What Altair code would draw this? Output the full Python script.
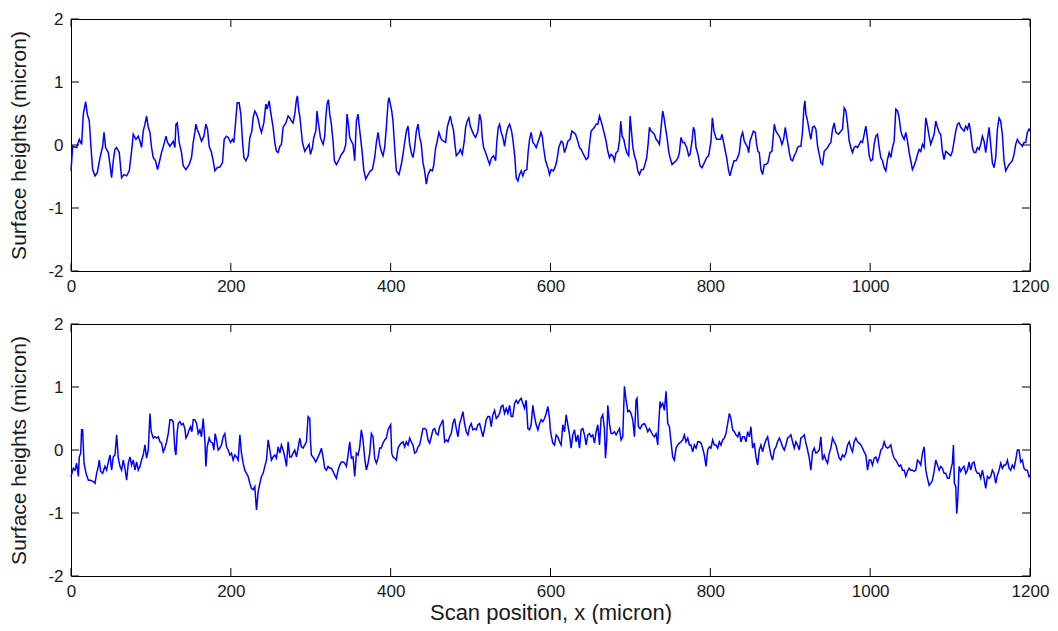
import altair as alt
import pandas as pd

X_TICKS = [0, 200, 400, 600, 800, 1000, 1200]
Y_TICKS = [-2, -1, 0, 1, 2]
Y_TITLE = "Surface heights (micron)"
X_TITLE = "Scan position, x (micron)"

# (scan position in micron, surface height in micron)
top_profile = [
    (0, -0.41), (2.1, -0.02), (7.1, -0.04), (10.4, 0.09), (13.3, 0.01), (15.4, 0.49), (18.3, 0.69),
    (20.4, 0.49), (22.9, 0.38), (25.0, -0.04), (27.1, -0.39), (30.0, -0.49), (32.9, -0.44), (36.3, -0.20),
    (39.6, -0.02), (41.3, 0.20), (43.3, -0.04), (46.7, -0.12), (48.8, -0.31), (50.8, -0.52), (52.9, -0.25),
    (55.0, -0.07), (57.1, -0.04), (60.4, -0.12), (63.3, -0.52), (66.3, -0.47), (69.6, -0.49), (72.9, -0.41),
    (75.8, -0.10), (77.9, 0.17), (81.3, 0.09), (84.2, 0.14), (86.3, 0.06), (88.3, -0.04), (90.4, 0.22),
    (92.5, 0.33), (94.6, 0.46), (96.7, 0.28), (98.8, 0.20), (100.8, -0.04), (102.9, -0.20), (105.8, -0.25),
    (108.3, -0.39), (111.3, -0.23), (113.3, -0.12), (116.3, 0.01), (118.8, 0.14), (120.8, 0.04), (123.8, -0.02),
    (127.9, 0.06), (130.0, -0.04), (131.3, 0.33), (132.9, 0.35), (135.4, 0.04), (138.3, -0.12), (140.4, -0.33),
    (143.8, -0.39), (147.9, -0.31), (150.8, -0.20), (152.9, 0.04), (155.0, 0.20), (156.3, 0.33), (157.9, 0.25),
    (160.4, 0.17), (163.3, 0.06), (166.3, 0.14), (168.8, 0.33), (170.8, 0.25), (172.9, -0.02), (175.8, -0.12),
    (177.9, -0.25), (180.0, -0.41), (182.9, -0.36), (186.3, -0.35), (189.6, -0.28), (191.7, 0.09), (194.6, 0.14),
    (196.7, 0.12), (199.6, 0.04), (202.1, 0.09), (203.8, 0.04), (206.3, 0.41), (207.9, 0.67), (210.4, 0.67),
    (212.5, 0.49), (214.6, 0.06), (216.3, -0.20), (218.8, -0.25), (221.7, -0.17), (223.8, 0.12), (226.3, 0.22),
    (227.9, 0.43), (230.0, 0.54), (232.1, 0.49), (234.2, 0.41), (236.3, 0.28), (238.3, 0.20), (241.3, 0.35),
    (243.8, 0.65), (245.4, 0.57), (247.9, 0.70), (250.0, 0.51), (252.9, 0.28), (255.0, 0.04), (257.1, -0.10),
    (259.2, -0.12), (261.3, -0.02), (263.3, 0.01), (265.4, 0.28), (268.8, 0.35), (271.7, 0.46), (273.8, 0.43),
    (275.8, 0.38), (277.9, 0.35), (280.0, 0.49), (282.1, 0.72), (283.3, 0.78), (285.0, 0.54), (286.3, 0.46),
    (289.6, 0.04), (292.5, -0.10), (295.4, -0.04), (297.9, 0.01),
    (299.6, -0.15), (302.1, -0.04), (303.8, 0.12), (306.3, 0.22), (307.9, 0.54), (309.2, 0.38), (310.4, 0.28),
    (312.1, 0.12), (313.8, 0.06), (315.4, 0.01), (317.5, 0.14), (318.8, 0.43), (320.4, 0.65), (322.1, 0.72),
    (323.8, 0.49), (325.8, 0.33), (327.9, 0.06), (329.6, -0.25), (332.1, -0.31), (335.4, -0.23), (338.3, -0.15),
    (341.3, -0.10), (343.8, 0.01), (345.4, 0.49), (347.1, 0.33), (348.8, 0.12), (350.8, 0.06), (352.9, 0.01),
    (355.0, -0.25), (357.1, 0.38), (359.2, 0.49), (360.4, 0.33), (362.1, 0.14), (364.6, -0.15), (366.3, -0.39),
    (368.8, -0.54), (371.7, -0.47), (374.6, -0.41), (377.1, -0.39), (380.0, -0.20), (382.1, 0.04), (384.2, 0.20),
    (386.3, 0.01), (388.3, -0.10), (390.4, -0.17), (392.5, -0.04), (394.6, 0.28), (396.7, 0.67), (397.9, 0.75),
    (399.6, 0.65), (401.3, 0.54), (402.9, 0.38), (405.0, -0.04), (407.1, -0.41), (410.4, -0.47), (413.3, -0.31),
    (415.4, -0.15), (417.5, 0.04), (419.6, 0.22), (421.7, 0.30), (423.8, 0.01), (425.8, -0.12), (427.9, -0.20),
    (430.0, -0.04), (432.1, 0.22), (434.2, 0.33), (436.3, 0.12), (438.3, 0.01), (440.4, -0.28), (442.5, -0.41),
    (444.6, -0.62), (446.7, -0.47), (449.6, -0.39), (452.1, -0.41), (453.8, -0.33), (456.3, -0.04), (457.9, 0.04),
    (460.4, 0.20), (463.3, 0.09), (466.3, 0.06), (468.8, 0.04), (470.8, 0.28), (472.9, 0.38), (474.6, 0.46),
    (476.3, 0.35), (478.8, 0.22), (480.4, 0.01), (482.1, -0.17), (485.4, -0.12), (487.1, -0.07), (489.6, -0.15),
    (492.1, 0.06), (493.8, 0.28), (495.8, 0.38), (497.9, 0.43), (499.6, 0.30), (502.1, 0.22), (503.8, 0.17),
    (506.3, 0.12), (509.2, 0.22), (511.3, 0.49), (513.3, 0.38), (514.6, 0.12), (516.3, -0.04), (518.8, -0.12),
    (521.7, -0.23), (523.8, -0.31), (526.3, -0.20), (528.8, -0.17), (531.3, -0.25), (532.9, 0.06), (534.6, 0.28),
    (536.3, 0.33), (538.3, 0.20), (540.4, 0.12), (542.5, -0.02), (544.6, 0.17), (546.7, 0.28), (548.8, 0.33),
    (551.3, 0.22), (552.9, 0.09), (555.4, -0.20), (557.1, -0.52), (559.2, -0.57), (561.3, -0.47), (563.3, -0.41),
    (565.4, -0.49), (567.5, -0.41), (570.4, -0.39), (572.1, -0.10), (573.8, 0.09), (575.8, 0.20), (577.9, 0.04),
    (580.0, 0.01), (582.1, -0.04), (584.2, 0.04), (586.3, 0.12), (588.0, 0.20), (589.6, 0.14), (591.3, -0.04),
    (593.8, -0.25), (596.7, -0.36), (598.8, -0.47),
    (600.8, -0.39), (603.8, -0.41), (606.3, -0.33), (607.9, -0.25), (610.4, -0.04), (613.3, 0.06), (615.4, 0.04),
    (617.5, -0.12), (619.6, -0.04), (621.7, 0.06), (624.6, 0.09), (626.7, 0.22), (628.8, 0.20), (631.3, 0.17),
    (634.2, 0.06), (636.3, -0.04), (638.3, -0.07), (641.3, -0.15), (644.6, -0.23), (647.1, -0.20), (648.8, 0.01),
    (650.8, 0.22), (652.9, 0.25), (655.0, 0.28), (657.1, 0.33), (659.2, 0.33), (661.3, 0.46), (663.3, 0.38),
    (665.4, 0.28), (667.5, 0.17), (669.6, 0.06), (671.7, -0.10), (673.8, -0.20), (675.8, -0.15), (677.9, -0.17),
    (680.0, -0.25), (682.1, -0.12), (684.2, -0.10), (686.3, 0.06), (687.9, 0.38), (689.6, 0.14), (691.7, 0.09),
    (693.8, -0.04), (695.4, -0.12), (697.9, -0.17), (699.6, 0.46), (701.3, 0.22), (702.9, -0.02), (705.0, -0.17),
    (707.1, -0.25), (709.2, -0.41), (711.3, -0.47), (713.8, -0.39), (716.3, -0.39), (718.8, -0.28), (720.4, -0.20),
    (722.1, 0.01), (723.8, 0.28), (725.8, 0.22), (727.9, 0.20), (730.0, 0.17), (732.1, 0.09), (734.2, 0.06),
    (736.3, 0.01), (738.8, 0.33), (740.4, 0.54), (742.1, 0.43), (743.8, 0.28), (745.8, 0.12), (747.9, -0.10),
    (749.6, -0.20), (752.1, -0.31), (754.6, -0.28), (757.1, -0.25), (759.6, -0.20), (761.3, -0.12), (763.3, 0.12),
    (765.4, 0.04), (767.5, 0.04), (770.4, -0.04), (772.9, -0.17), (774.6, -0.15), (777.1, 0.06), (778.8, 0.28),
    (780.4, 0.22), (782.1, -0.04), (784.6, -0.15), (787.1, -0.33), (789.6, -0.36), (792.5, -0.28), (795.4, -0.20),
    (797.9, -0.17), (800.8, 0.06), (802.5, 0.43), (804.6, 0.22), (806.3, 0.14), (807.9, 0.09), (810.4, 0.09),
    (812.9, 0.09), (814.6, 0.17), (816.3, 0.06), (817.9, -0.04), (820.4, -0.20), (822.9, -0.41), (824.6, -0.49),
    (827.1, -0.36), (829.6, -0.25), (832.1, -0.25), (834.2, -0.20), (836.3, -0.12), (838.3, 0.12), (840.4, 0.20),
    (842.5, 0.06), (844.6, 0.01), (846.7, -0.04), (847.9, -0.12), (849.6, 0.06), (851.7, 0.14), (853.8, 0.22),
    (856.3, 0.20), (857.9, 0.01), (859.6, -0.10), (861.3, -0.12), (863.3, -0.39), (865.4, -0.47), (867.5, -0.31),
    (869.6, -0.31), (872.1, -0.28), (874.6, -0.12), (877.1, -0.10), (880.0, 0.33), (882.1, 0.22), (884.6, 0.17),
    (887.1, 0.12), (889.6, 0.01), (891.7, 0.09), (893.8, 0.28), (895.4, 0.14), (897.9, -0.04),
    (898.8, -0.12), (900.8, -0.23), (902.9, -0.25), (905.0, -0.17), (907.1, -0.12), (909.2, -0.04), (911.3, -0.02),
    (913.3, -0.02), (915.4, 0.22), (917.1, 0.59), (918.3, 0.70), (919.6, 0.49), (921.7, 0.38), (923.8, 0.22),
    (925.8, 0.09), (927.9, 0.28), (930.0, 0.30), (932.1, 0.25), (934.2, -0.02), (936.3, -0.15), (938.3, -0.28),
    (940.4, -0.31), (942.5, -0.10), (944.6, -0.07), (946.7, -0.04), (948.8, 0.01), (950.8, 0.04), (952.9, 0.25),
    (955.0, 0.35), (957.1, 0.20), (960.4, 0.17), (963.3, 0.22), (965.4, 0.25), (967.5, 0.59), (969.6, 0.54),
    (971.7, 0.33), (973.8, 0.06), (975.8, -0.04), (977.9, -0.12), (980.0, -0.04), (982.1, -0.02), (984.2, -0.04),
    (986.3, 0.01), (988.3, 0.06), (990.4, 0.04), (992.5, 0.17), (994.6, 0.30), (996.7, 0.09), (998.8, -0.17),
    (1000.8, -0.25), (1002.9, -0.23), (1005.0, 0.01), (1007.1, 0.14), (1009.2, 0.17), (1011.3, -0.04),
    (1013.3, -0.20), (1015.4, -0.25), (1017.5, -0.36), (1019.6, -0.41), (1021.7, -0.23), (1023.8, -0.12),
    (1025.8, -0.20), (1027.9, -0.04), (1030.0, 0.06), (1032.1, 0.57), (1034.2, 0.54), (1036.3, 0.43),
    (1038.3, 0.22), (1040.4, 0.14), (1042.5, 0.09), (1044.6, 0.20), (1046.7, 0.06), (1048.8, -0.12),
    (1050.8, -0.25), (1052.9, -0.39), (1055.0, -0.33), (1057.1, -0.25), (1059.2, -0.15), (1061.3, -0.07),
    (1063.3, -0.10), (1065.4, 0.01), (1067.5, -0.04), (1069.6, 0.43), (1071.7, 0.30), (1073.8, 0.14),
    (1075.8, 0.01), (1077.9, 0.09), (1080.0, 0.17), (1082.1, 0.38), (1084.2, 0.28), (1086.3, 0.20),
    (1088.3, 0.17), (1090.4, -0.10), (1092.5, -0.23), (1094.6, -0.10), (1096.7, -0.12), (1098.8, -0.15),
    (1100.8, -0.17), (1102.9, -0.10), (1105.0, 0.06), (1107.1, 0.22), (1109.2, 0.33), (1111.3, 0.35),
    (1113.3, 0.28), (1115.4, 0.25), (1117.5, 0.22), (1119.6, 0.30), (1121.7, 0.25), (1123.8, 0.35),
    (1125.8, 0.20), (1127.9, -0.04), (1130.0, -0.12), (1132.1, -0.12), (1134.2, -0.04), (1136.3, -0.07),
    (1138.3, 0.01), (1140.4, 0.14), (1142.5, 0.06), (1144.6, -0.12), (1146.7, 0.09), (1148.8, 0.28),
    (1150.8, 0.01), (1152.9, -0.28), (1155.0, -0.36), (1157.1, -0.20), (1159.2, 0.25), (1161.3, 0.43),
    (1163.3, 0.38), (1165.4, 0.17), (1167.5, -0.25), (1169.6, -0.41), (1171.7, -0.36), (1173.8, -0.31),
    (1175.8, -0.28), (1177.9, -0.25), (1180.0, -0.15), (1182.1, 0.01), (1184.2, 0.09), (1186.3, 0.04),
    (1188.3, 0.01), (1190.4, -0.02), (1192.5, 0.04), (1194.6, 0.04), (1196.7, 0.20), (1198.8, 0.25),
    (1200.0, 0.22),
]

# (scan position in micron, surface height in micron)
bottom_profile = [
    (0, -0.42), (2.9, -0.29), (5.0, -0.32), (7.1, -0.21), (9.2, -0.42), (10.4, -0.11), (12.1, -0.05),
    (13.3, 0.32), (14.6, 0.32), (16.3, -0.21), (18.8, -0.37), (21.7, -0.48), (24.6, -0.48), (27.9, -0.50),
    (30.0, -0.53), (32.1, -0.37), (34.2, -0.26), (35.4, -0.16), (37.1, -0.34), (39.6, -0.37), (42.5, -0.26),
    (44.6, -0.32), (46.7, -0.19), (48.8, -0.08), (50.8, -0.32), (52.9, -0.11), (55.0, -0.08), (57.1, 0.24),
    (59.2, -0.13), (61.3, -0.26), (63.3, -0.32), (65.4, -0.16), (67.5, -0.29), (69.6, -0.48), (71.7, -0.21),
    (73.8, -0.11), (75.8, -0.24), (77.9, -0.16), (80.0, -0.32), (82.1, -0.19), (84.2, -0.32), (86.3, -0.26),
    (88.3, -0.16), (90.4, -0.08), (92.5, 0.08), (94.6, -0.13), (96.7, 0.00), (98.8, 0.58), (100.4, 0.29),
    (102.9, 0.19), (105.0, 0.21), (107.1, 0.19), (109.2, 0.21), (111.3, 0.13), (113.3, 0.11), (115.4, -0.03),
    (117.5, 0.03), (119.6, 0.13), (121.7, 0.26), (123.8, 0.48), (125.8, 0.48), (127.9, 0.45), (130.0, 0.00),
    (131.3, -0.08), (132.9, 0.29), (134.2, 0.42), (136.3, 0.45), (138.3, 0.40), (140.4, 0.42), (142.5, 0.34),
    (143.8, 0.19), (145.8, 0.24), (147.9, 0.32), (149.6, 0.37), (151.3, 0.29), (152.9, 0.48), (155.0, 0.48),
    (157.1, 0.42), (159.2, 0.26), (161.3, 0.32), (163.3, 0.21), (165.4, 0.50), (167.5, 0.16), (168.8, -0.26),
    (170.4, 0.05), (172.9, 0.19), (174.6, 0.13), (177.1, 0.11), (178.8, 0.00), (180.4, 0.26), (182.1, 0.16),
    (184.2, 0.00), (186.3, 0.03), (188.3, 0.08), (190.4, 0.21), (192.5, 0.26), (194.6, 0.05), (196.7, 0.00),
    (198.8, -0.08), (200.8, -0.05), (202.9, -0.16), (205.0, -0.08), (207.1, -0.11), (209.2, -0.16),
    (211.3, 0.24), (213.3, -0.05), (215.4, -0.21), (217.5, -0.32), (219.6, -0.37), (221.7, -0.42),
    (223.8, -0.53), (225.8, -0.61), (227.9, -0.63), (230.0, -0.58), (232.1, -0.95), (234.2, -0.66),
    (236.3, -0.53), (238.3, -0.42), (240.4, -0.37), (242.5, -0.26), (244.6, -0.16), (246.7, 0.16),
    (248.8, 0.00), (250.8, -0.16), (252.9, -0.11), (255.0, -0.08), (257.1, -0.13), (259.2, 0.05),
    (261.3, -0.05), (263.3, 0.08), (265.4, 0.00), (267.5, -0.11), (269.6, -0.26), (271.7, 0.13),
    (273.8, -0.11), (275.8, -0.11), (277.9, -0.05), (280.0, 0.00), (282.1, -0.11), (284.2, 0.03),
    (286.3, 0.19), (288.3, 0.05), (290.4, 0.03), (292.5, 0.08), (294.6, 0.13), (296.7, 0.53), (298.8, 0.50),
    (299.6, 0.16), (300.8, -0.08), (303.8, -0.13), (306.3, -0.19), (309.2, -0.11), (311.3, -0.05),
    (313.3, 0.03), (315.4, -0.11), (317.5, -0.29), (319.6, -0.32), (321.7, -0.26), (323.8, -0.29),
    (325.8, -0.29), (327.9, -0.34), (330.0, -0.40), (332.1, -0.45), (334.2, -0.32), (336.3, -0.24),
    (338.3, -0.19), (340.4, -0.19), (342.5, -0.21), (344.6, -0.26), (346.7, -0.08), (348.8, 0.13),
    (350.8, -0.13), (352.9, -0.11), (355.0, -0.42), (357.1, -0.05), (359.2, -0.08), (361.3, 0.05),
    (363.3, 0.32), (365.4, 0.16), (367.5, -0.13), (369.6, -0.32), (371.7, -0.21), (373.8, -0.05),
    (375.8, 0.26), (377.9, 0.21), (380.0, -0.13), (382.1, -0.21), (384.2, -0.13), (386.3, 0.03),
    (388.3, 0.03), (390.4, 0.11), (392.5, 0.16), (394.6, 0.19), (396.7, 0.32), (398.8, 0.37), (400.0, 0.40),
    (401.3, -0.05), (402.9, -0.11), (405.0, -0.13), (407.1, -0.16), (409.2, 0.03), (411.3, 0.08),
    (413.3, 0.11), (415.4, 0.13), (417.5, 0.05), (419.6, 0.13), (421.7, 0.08), (423.8, 0.19), (425.8, 0.13),
    (427.9, 0.08), (430.0, -0.05), (432.1, -0.03), (434.2, 0.05), (436.3, 0.08), (438.3, 0.21),
    (440.4, 0.34), (442.5, 0.34), (444.6, 0.32), (446.7, 0.16), (448.8, 0.11), (450.8, 0.21), (452.9, 0.32),
    (455.0, 0.34), (457.1, 0.26), (459.2, 0.24), (461.3, 0.37), (463.3, 0.42), (465.4, 0.48), (467.5, 0.13),
    (469.6, 0.16), (471.7, 0.13), (473.8, 0.21), (475.8, 0.26), (477.9, 0.42), (480.0, 0.50), (482.1, 0.34),
    (484.2, 0.21), (486.3, 0.42), (488.3, 0.50), (490.4, 0.61), (492.5, 0.42), (494.6, 0.29), (496.7, 0.24),
    (498.8, 0.37), (500.8, 0.42), (502.9, 0.32), (505.0, 0.34), (507.1, 0.32), (509.2, 0.40), (511.3, 0.42),
    (513.3, 0.32), (515.4, 0.21), (517.5, 0.34), (519.6, 0.48), (521.7, 0.53), (523.8, 0.53), (525.8, 0.37),
    (527.9, 0.56), (530.0, 0.63), (532.1, 0.50), (534.2, 0.53), (536.3, 0.58), (538.3, 0.69), (540.4, 0.71),
    (542.5, 0.58), (544.6, 0.66), (546.7, 0.58), (548.8, 0.71), (550.8, 0.53), (552.9, 0.53), (555.0, 0.74),
    (557.1, 0.79), (559.2, 0.74), (561.3, 0.79), (563.3, 0.82), (565.4, 0.74), (567.5, 0.66), (569.6, 0.79),
    (571.7, 0.34), (573.8, 0.32), (575.8, 0.40), (577.9, 0.71), (580.0, 0.53), (582.1, 0.40), (584.2, 0.32),
    (586.3, 0.42), (588.3, 0.48), (590.4, 0.45), (592.5, 0.50), (594.6, 0.58), (596.7, 0.69), (598.8, 0.50),
    (599.6, 0.34), (600.8, 0.24), (602.9, 0.11), (605.0, 0.08), (607.1, 0.24), (609.2, 0.21), (611.3, 0.13),
    (613.3, 0.08), (615.4, 0.40), (617.5, 0.29), (619.6, 0.56), (621.7, 0.40), (623.8, 0.24), (625.8, 0.03),
    (627.9, 0.24), (630.0, 0.32), (632.1, 0.13), (634.2, 0.24), (636.3, 0.03), (638.3, 0.32), (640.4, 0.34),
    (642.5, 0.24), (644.6, 0.08), (646.7, 0.24), (648.8, 0.26), (650.8, 0.21), (652.9, 0.24), (655.0, 0.11),
    (657.1, 0.29), (659.2, 0.40), (661.3, 0.08), (663.3, 0.50), (665.4, 0.56), (667.5, 0.34), (668.8, -0.13),
    (670.4, 0.16), (671.7, 0.71), (673.8, 0.42), (675.8, 0.26), (677.9, 0.26), (680.0, 0.29), (682.1, 0.24),
    (684.2, 0.29), (686.3, 0.34), (688.3, 0.16), (690.4, 0.21), (692.5, 1.01), (694.6, 0.79), (696.7, 0.61),
    (698.8, 0.63), (700.8, 0.58), (702.9, 0.48), (705.0, 0.21), (707.1, 0.79), (708.3, 0.82), (710.0, 0.37),
    (712.1, 0.34), (714.6, 0.40), (717.5, 0.42), (719.6, 0.37), (721.7, 0.29), (723.8, 0.34), (725.8, 0.29),
    (727.9, 0.24), (730.0, 0.21), (732.1, 0.26), (734.2, 0.08), (735.4, 0.42), (737.1, 0.77), (738.3, 0.69),
    (740.4, 0.74), (742.5, 0.63), (744.6, 0.93), (746.7, 0.42), (748.8, 0.37), (750.8, 0.13), (752.9, -0.11),
    (755.0, -0.16), (757.1, 0.03), (759.2, 0.08), (761.3, 0.11), (763.3, 0.13), (765.4, 0.16), (767.5, 0.24),
    (769.6, 0.13), (771.7, 0.19), (773.8, 0.08), (775.8, 0.08), (777.9, -0.03), (780.0, 0.08), (782.1, 0.03),
    (784.2, 0.13), (786.3, 0.13), (788.3, 0.11), (790.4, 0.03), (792.5, -0.08), (794.6, -0.26), (796.7, 0.00),
    (798.8, 0.05), (800.8, 0.03), (802.9, 0.16), (805.0, 0.08), (807.1, 0.08), (809.2, 0.03), (811.3, 0.13),
    (813.3, 0.08), (815.4, 0.16), (817.5, 0.19), (819.6, 0.26), (821.7, 0.42), (823.8, 0.58), (825.8, 0.50),
    (827.9, 0.32), (830.0, 0.29), (832.1, 0.24), (834.2, 0.21), (836.3, 0.29), (838.3, 0.13), (840.4, 0.21),
    (842.5, 0.21), (844.6, 0.13), (846.7, 0.29), (848.8, 0.21), (850.8, 0.37), (852.9, 0.03), (855.0, 0.11),
    (857.1, -0.11), (859.2, -0.24), (861.3, 0.00), (863.3, 0.08), (865.4, -0.03), (867.5, 0.08), (869.6, 0.16),
    (871.7, 0.21), (873.8, 0.05), (875.8, -0.08), (877.9, -0.16), (880.0, 0.00), (882.1, 0.05), (884.2, 0.13),
    (886.3, 0.19), (888.3, 0.13), (890.4, 0.05), (892.5, 0.00), (894.6, 0.08), (896.7, 0.19), (898.8, 0.21),
    (900.8, 0.24), (902.9, 0.13), (905.0, 0.03), (907.1, 0.13), (909.2, 0.08), (911.3, 0.00), (913.3, 0.19),
    (915.4, 0.21), (917.5, 0.24), (919.6, 0.11), (921.7, 0.00), (923.8, -0.13), (925.8, -0.32), (927.9, -0.03),
    (930.0, 0.03), (932.1, -0.05), (934.2, -0.03), (936.3, 0.00), (938.3, 0.21), (940.4, -0.16), (942.5, -0.08),
    (944.6, -0.16), (946.7, -0.21), (948.8, -0.05), (950.8, 0.03), (952.9, 0.19), (955.0, 0.13), (957.1, 0.08),
    (959.2, -0.03), (961.3, -0.13), (963.3, -0.16), (965.4, -0.08), (967.5, -0.11), (969.6, -0.05),
    (971.7, 0.08), (973.8, 0.13), (975.8, 0.03), (977.9, -0.03), (980.0, 0.13), (982.1, 0.19), (984.2, 0.13),
    (986.3, 0.11), (988.3, 0.08), (990.4, 0.03), (992.5, -0.03), (994.6, -0.08), (996.7, -0.32),
    (998.8, -0.16), (1000.8, -0.16), (1002.9, -0.24), (1005.0, -0.13), (1007.1, -0.11), (1009.2, -0.19),
    (1011.3, -0.11), (1013.3, 0.00), (1015.4, 0.03), (1017.5, 0.13), (1019.6, 0.05), (1021.7, 0.03),
    (1023.8, 0.05), (1025.8, 0.08), (1027.9, -0.05), (1030.0, -0.13), (1032.1, -0.16), (1034.2, -0.21),
    (1036.3, -0.26), (1038.3, -0.24), (1040.4, -0.32), (1042.5, -0.32), (1044.6, -0.42), (1046.7, -0.34),
    (1048.8, -0.29), (1050.8, -0.32), (1052.9, -0.32), (1055.0, -0.34), (1057.1, -0.32), (1059.2, -0.16),
    (1061.3, -0.19), (1063.3, -0.24), (1065.4, -0.05), (1067.5, 0.05), (1069.6, -0.32), (1071.7, -0.45),
    (1073.8, -0.56), (1075.8, -0.53), (1077.9, -0.48), (1080.0, -0.34), (1082.1, -0.16), (1084.2, -0.24),
    (1086.3, -0.32), (1088.3, -0.26), (1090.4, -0.29), (1092.5, -0.37), (1094.6, -0.37), (1096.7, -0.45),
    (1098.8, -0.45), (1100.8, -0.32), (1102.9, -0.21), (1104.2, 0.08), (1105.4, -0.53), (1107.1, -0.58),
    (1108.3, -1.01), (1109.6, -0.79), (1111.3, -0.26), (1113.3, -0.34), (1115.4, -0.29), (1117.5, -0.26),
    (1119.6, -0.37), (1121.7, -0.32), (1123.8, -0.19), (1125.8, -0.32), (1127.9, -0.21), (1130.0, -0.19),
    (1132.1, -0.32), (1134.2, -0.37), (1136.3, -0.37), (1138.3, -0.45), (1140.4, -0.32), (1142.5, -0.45),
    (1144.6, -0.61), (1146.7, -0.42), (1148.8, -0.45), (1150.8, -0.42), (1152.9, -0.32), (1155.0, -0.37),
    (1157.1, -0.53), (1159.2, -0.40), (1161.3, -0.32), (1163.3, -0.21), (1165.4, -0.29), (1167.5, -0.24),
    (1169.6, -0.24), (1171.7, -0.16), (1173.8, -0.29), (1175.8, -0.32), (1177.9, -0.24), (1180.0, -0.29),
    (1182.1, -0.16), (1184.2, 0.00), (1186.3, 0.00), (1188.3, -0.19), (1190.4, -0.16), (1192.5, -0.29),
    (1194.6, -0.32), (1196.7, -0.32), (1198.8, -0.42), (1200.0, -0.40),
]

W, H = 959, 252
FONT = "Liberation Sans"
TEXT = "#1a1a1a"
LABEL_EXPR = "'' + datum.value"


def panel(profile, x_title):
    df = pd.DataFrame(profile, columns=["x", "y"])
    xs = alt.Scale(domain=[0, 1200], nice=False, zero=False)
    ys = alt.Scale(domain=[-2, 2], nice=False, zero=False)
    xaxis = alt.Axis(values=X_TICKS, title=x_title, labelExpr=LABEL_EXPR)
    yaxis = alt.Axis(values=Y_TICKS, title=Y_TITLE, labelExpr=LABEL_EXPR)
    line = alt.Chart(df).mark_line(color="#0000ff", strokeWidth=1.5).encode(
        x=alt.X("x:Q", scale=xs, axis=xaxis),
        y=alt.Y("y:Q", scale=ys, axis=yaxis),
    )
    yt = pd.DataFrame({"y": Y_TICKS})
    xt = pd.DataFrame({"x": X_TICKS})
    left = alt.Chart(yt).mark_rule(color="black", strokeWidth=1).encode(
        y=alt.Y("y:Q", scale=ys, axis=yaxis), x=alt.value(0), x2=alt.value(8))
    right = alt.Chart(yt).mark_rule(color="black", strokeWidth=1).encode(
        y=alt.Y("y:Q", scale=ys, axis=yaxis), x=alt.value(W - 8), x2=alt.value(W))
    bottom = alt.Chart(xt).mark_rule(color="black", strokeWidth=1).encode(
        x=alt.X("x:Q", scale=xs, axis=xaxis), y=alt.value(H - 8), y2=alt.value(H))
    top = alt.Chart(xt).mark_rule(color="black", strokeWidth=1).encode(
        x=alt.X("x:Q", scale=xs, axis=xaxis), y=alt.value(0), y2=alt.value(8))
    return alt.layer(line, left, right, bottom, top).properties(width=W, height=H)


chart = (
    alt.vconcat(panel(top_profile, ""), panel(bottom_profile, X_TITLE),
                spacing=53, bounds="flush")
    .properties(background="white", padding={"left": 0, "top": 1, "right": 0, "bottom": 0})
    .configure(font=FONT)
    .configure_view(stroke="black", strokeWidth=1)
    .configure_axis(
        labelFont=FONT, labelFontSize=17, labelColor=TEXT, labelFlush=False,
        titleFont=FONT, titleFontSize=21, titleFontWeight="normal", titleColor=TEXT,
        ticks=False, tickSize=0, domain=False, grid=False,
    )
    .configure_axisY(labelPadding=8, titlePadding=18)
    .configure_axisX(labelPadding=7, titlePadding=3, titleFontSize=22)
)

chart.save("out.html", embed_options={"renderer": "svg", "actions": False})
